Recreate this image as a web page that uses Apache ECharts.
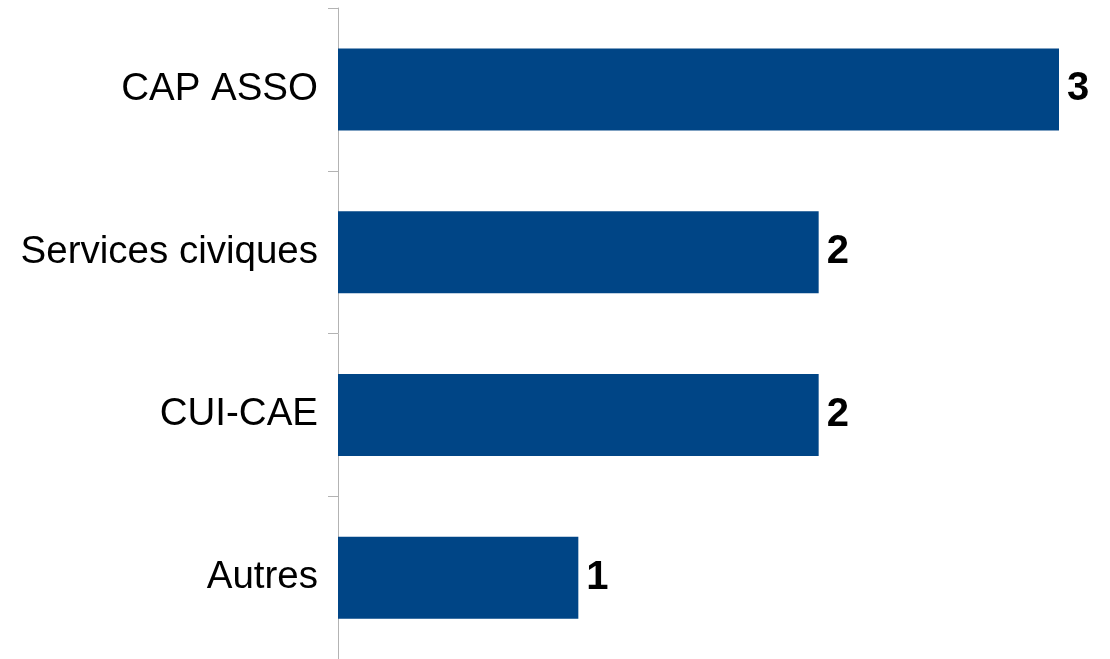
<!DOCTYPE html>
<html>
<head>
<meta charset="utf-8">
<script src="https://cdn.jsdelivr.net/npm/echarts@6/dist/echarts.min.js"></script>
<style>html,body{margin:0;padding:0;background:#fff}#c{width:1110px;height:659px}</style>
</head>
<body>
<div id="c"></div>
<script>
const categories = ['CAP ASSO', 'Services civiques', 'CUI-CAE', 'Autres'];
const values = [3, 2, 2, 1];

const chart = echarts.init(document.getElementById('c'), null, {renderer: 'canvas'});
chart.setOption({
  animation: false,
  backgroundColor: '#ffffff',
  grid: {left: 338, width: 721, top: 8, height: 654, containLabel: false},
  xAxis: {
    type: 'value', min: 0, max: 3,
    show: false
  },
  yAxis: {
    type: 'category', data: categories, inverse: true,
    axisLine: {show: true, lineStyle: {color: '#b3b3b3', width: 1}},
    axisTick: {show: true, length: 10, lineStyle: {color: '#b3b3b3'}},
    axisLabel: {color: '#000000', fontSize: 38.5, fontFamily: 'Liberation Sans', margin: 20},
    splitLine: {show: false}
  },
  series: [{
    type: 'bar',
    data: values,
    barWidth: 82,
    itemStyle: {color: '#004586'},
    label: {
      show: true, position: 'right', distance: 8,
      color: '#000000', fontSize: 40, fontWeight: 'bold', fontFamily: 'Liberation Sans'
    }
  }]
});
</script>
</body>
</html>
